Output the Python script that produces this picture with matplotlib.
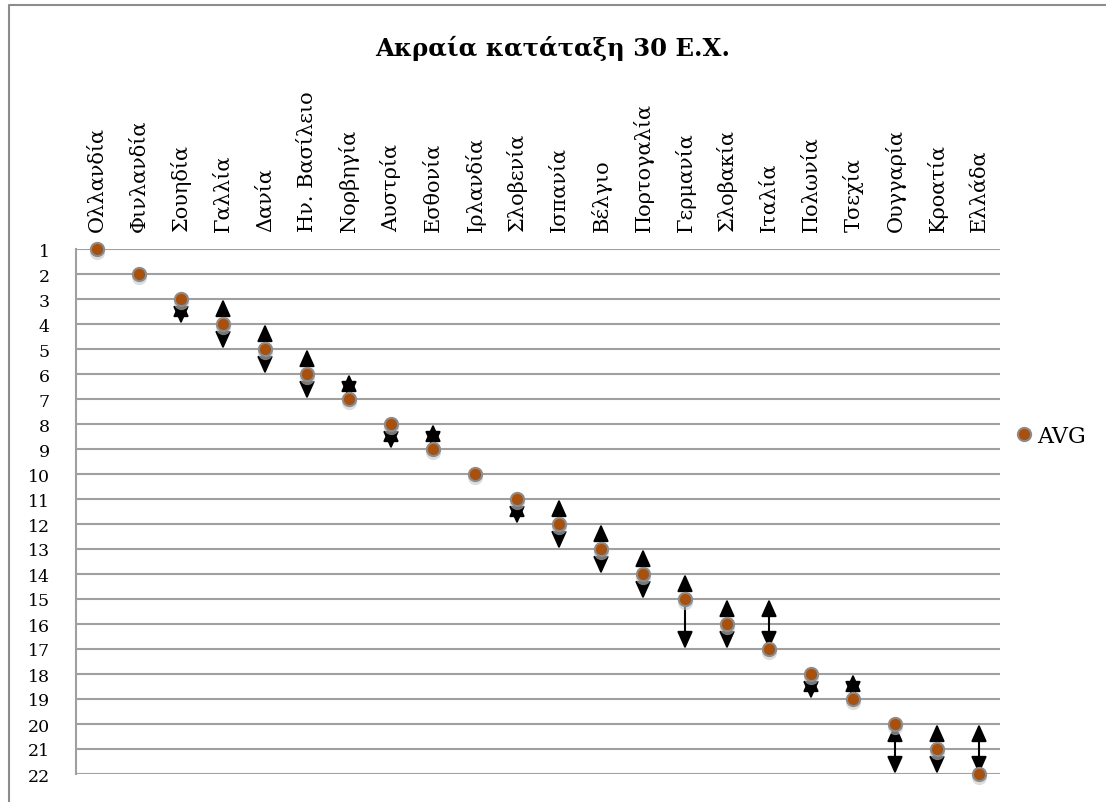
import matplotlib.pyplot as plt
from matplotlib.lines import Line2D
from matplotlib.transforms import offset_copy

countries = ['Ολλανδία', 'Φινλανδία', 'Σουηδία', 'Γαλλία', 'Δανία', 'Ην. Βασίλειο',
             'Νορβηγία', 'Αυστρία', 'Εσθονία', 'Ιρλανδία', 'Σλοβενία', 'Ισπανία',
             'Βέλγιο', 'Πορτογαλία', 'Γερμανία', 'Σλοβακία', 'Ιταλία', 'Πολωνία',
             'Τσεχία', 'Ουγγαρία', 'Κροατία', 'Ελλάδα']
avg_rank = [1, 2, 3, 4, 5, 6, 7, 8, 9, 10, 11, 12, 13, 14, 15, 16, 17, 18, 19, 20, 21, 22]
best_rank = [1, 2, 3, 3, 4, 5, 6, 8, 8, 10, 11, 11, 12, 13, 14, 15, 15, 18, 18, 20, 20, 20]
worst_rank = [1, 2, 4, 5, 6, 7, 7, 9, 9, 10, 12, 13, 14, 15, 17, 17, 17, 19, 19, 22, 22, 22]
y_ticks = list(range(1, 23))

FONT = 'DejaVu Serif'
GRID = '#A0A0A0'
DOT = '#A9500C'

W, H = 1106, 803
fig = plt.figure(figsize=(W / 100, H / 100), dpi=100)
ax = fig.add_axes([76 / W, 1 - 775 / H, 924 / W, 525 / H])

x = list(range(len(countries)))

# range arrows (best .. worst rank)
for xi, lo, hi in zip(x, best_rank, worst_rank):
    if hi > lo:
        ax.annotate('', xy=(xi, hi), xytext=(xi, lo),
                    arrowprops=dict(arrowstyle='<|-|>,head_length=1.05,head_width=0.47',
                                    color='black', lw=1.5, shrinkA=0, shrinkB=0),
                    zorder=3, annotation_clip=False)

# soft shadow under the dots
shadow = offset_copy(ax.transData, fig=fig, x=0, y=-3, units='dots')
ax.plot(x, avg_rank, 'o', ms=11, color='#C8C8C8', alpha=0.6, mec='none',
        transform=shadow, zorder=3.5, clip_on=False)
ax.plot(x, avg_rank, 'o', ms=9.5, mfc=DOT, mec='#8C8C8C', mew=1.5,
        linestyle='none', zorder=4, clip_on=False, label='AVG')

ax.set_xlim(-0.5, len(countries) - 0.5)
ax.set_ylim(22, 1)
ax.set_yticks(y_ticks)
ax.set_yticklabels([str(v) for v in y_ticks], fontsize=12.5, family=FONT)
ax.grid(axis='y', color=GRID, lw=1.5)
ax.set_axisbelow(True)

ax.xaxis.tick_top()
ax.set_xticks(x)
ax.set_xticklabels(countries, rotation=90, fontsize=15, family=FONT, va='bottom')
ax.tick_params(axis='x', length=0, pad=13)
ax.tick_params(axis='y', length=0, pad=19)

for s in ['top', 'right', 'bottom']:
    ax.spines[s].set_visible(False)
ax.spines['left'].set_color(GRID)
ax.spines['left'].set_linewidth(1.5)

leg = ax.legend(loc='center left', bbox_to_anchor=(1.01, 0.644), frameon=False,
                handlelength=0.5, handletextpad=0.35, borderaxespad=0,
                prop={'family': FONT, 'size': 16})

fig.text(0.5, 1 - 48 / H, 'Ακραία κατάταξη 30 Ε.Χ.', ha='center', va='center',
         fontsize=17.5, fontweight='bold', family=FONT)

# chart area border (top and left edges visible)
fig.add_artist(Line2D([9 / W, 9 / W, 1.0], [0.0, 1 - 6 / H, 1 - 6 / H],
                      transform=fig.transFigure, color='#8C8C8C', lw=1.5))

fig.savefig('out.png', dpi=100)
